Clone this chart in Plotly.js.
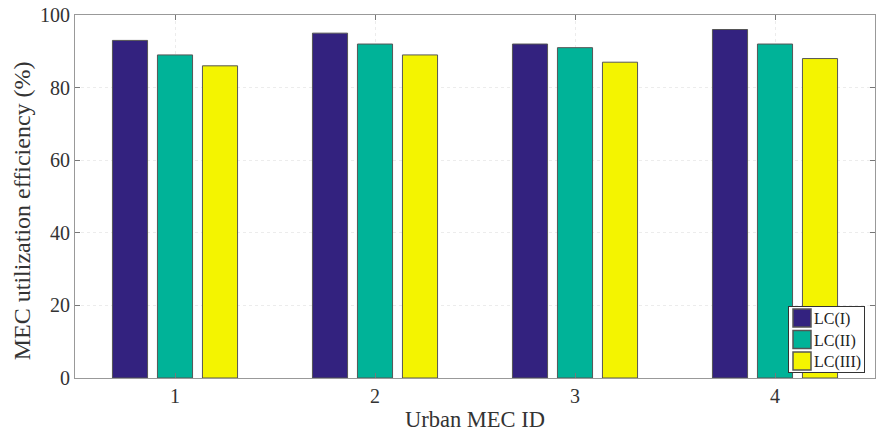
<!DOCTYPE html>
<html>
<head>
<meta charset="utf-8">
<script src="https://cdn.plot.ly/plotly-3.0.1.min.js"></script>
<style>html,body{margin:0;padding:0;background:#fff;}#chart{width:877px;height:432px;}</style>
</head>
<body>
<div id="chart"></div>
<script>
var categories = [1, 2, 3, 4];
var seriesNames = ['LC(I)', 'LC(II)', 'LC(III)'];
var lc1 = [93, 95, 92, 96];
var lc2 = [89, 92, 91, 92];
var lc3 = [86, 89, 87, 88];
var yTicks = [0, 20, 40, 60, 80, 100];

var colors = ['#33227f', '#00b398', '#f4f400'];
var data = [lc1, lc2, lc3].map(function (vals, i) {
  return {
    type: 'bar',
    x: categories,
    y: vals,
    name: seriesNames[i],
    marker: {color: colors[i], line: {color: '#555555', width: 1}}
  };
});

var serif = 'Liberation Serif, Times New Roman, serif';
var layout = {
  width: 877, height: 432,
  margin: {l: 75, r: 2, t: 15, b: 54},
  paper_bgcolor: '#ffffff', plot_bgcolor: '#ffffff',
  barmode: 'group',
  bargap: 0.325,
  bargroupgap: 0.22,
  showlegend: true,
  legend: {
    x: 0.987, y: 0.19, xanchor: 'right', yanchor: 'top',
    bordercolor: '#333333', borderwidth: 1, bgcolor: '#ffffff',
    font: {family: serif, size: 16, color: '#222222'},
    tracegroupgap: 0, itemwidth: 30
  },
  xaxis: {
    range: [0.5, 4.5],
    tickvals: categories, ticktext: categories.map(String),
    ticks: 'inside', ticklen: 5, tickcolor: '#777777',
    showline: true, linecolor: '#999999', linewidth: 1, mirror: 'ticks',
    showgrid: true, gridcolor: '#ececec', griddash: 'dot', gridwidth: 1,
    zeroline: false,
    tickfont: {family: serif, size: 20, color: '#333333'},
    title: {text: 'Urban MEC ID', font: {family: serif, size: 22.5, color: '#333333'}, standoff: 5}
  },
  yaxis: {
    range: [0, 100],
    tickvals: yTicks,
    ticks: 'inside', ticklen: 5, tickcolor: '#777777',
    showline: true, linecolor: '#999999', linewidth: 1, mirror: 'ticks',
    showgrid: true, gridcolor: '#ececec', griddash: 'dot', gridwidth: 1,
    zeroline: false,
    tickfont: {family: serif, size: 20, color: '#333333'}
  },
  annotations: [{
    text: 'MEC utilization efficiency (%)',
    xref: 'paper', yref: 'paper', x: -0.066, y: 0.46,
    xanchor: 'center', yanchor: 'middle', textangle: -90, showarrow: false,
    font: {family: serif, size: 24, color: '#333333'}
  }]
};

Plotly.newPlot('chart', data, layout, {displayModeBar: false, staticPlot: true}).then(function (gd) {
  var leg = gd.querySelector('.legend');
  if (!leg) return;
  var W = 76, H = 66;
  leg.setAttribute('transform', 'translate(788,306)');
  var bg = leg.querySelector('rect.bg');
  if (bg) { bg.setAttribute('width', W); bg.setAttribute('height', H); bg.setAttribute('x', 0.5); bg.setAttribute('y', 0.5); }
  var items = leg.querySelectorAll('.traces');
  items.forEach(function (it, i) {
    it.setAttribute('transform', 'translate(0,' + (12 + i * 21.5) + ')');
    var txt = it.querySelector('text.legendtext');
    if (txt) {
      txt.setAttribute('x', 26);
      txt.querySelectorAll('tspan').forEach(function (ts) { if (ts.hasAttribute('x')) ts.setAttribute('x', 26); });
    }
    it.querySelectorAll('.legendpoints path').forEach(function (p) {
      var t = p.getAttribute('transform') || '';
      p.setAttribute('transform', t + ' translate(-6,0) scale(1.5)');
    });
  });
});
</script>
</body>
</html>
